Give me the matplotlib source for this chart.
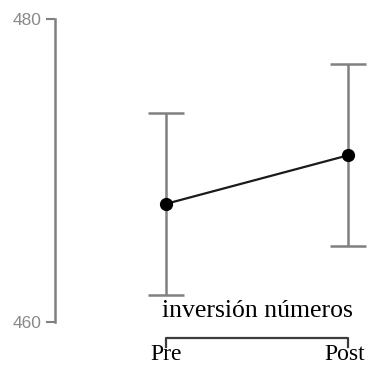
import matplotlib
matplotlib.use('Agg')
import matplotlib.pyplot as plt
from matplotlib.transforms import blended_transform_factory
from matplotlib.lines import Line2D

# Values
conditions = ['Pre', 'Post']
means = [467.8, 471.0]
errors = [6.0, 6.0]
y_ticks = [460, 480]
group_label = 'inversión números'

fig = plt.figure(figsize=(3.72, 3.68), dpi=100)
ax = fig.add_axes([55 / 372, 46 / 368, 317 / 372, 303 / 368])

x = list(range(len(conditions)))
ax.errorbar(x, means, yerr=errors, fmt='none', ecolor='#808080',
            elinewidth=1.8, capsize=13, capthick=1.8, zorder=1)
ax.plot(x, means, color='#1a1a1a', lw=1.6, marker='o', markersize=8.5,
        markerfacecolor='black', markeredgecolor='black', zorder=2)

ax.set_xlim(-0.61, 1.132)
ax.set_ylim(460, 480)
ax.set_yticks(y_ticks)
ax.set_xticks([])
for side in ['top', 'right', 'bottom']:
    ax.spines[side].set_visible(False)
ax.spines['left'].set_color('#808080')
ax.spines['left'].set_linewidth(1.8)
ax.tick_params(axis='y', direction='out', length=6.5, width=1.5,
               color='#808080', labelcolor='#8a8a8a', labelsize=12.5, pad=3)
for lab in ax.get_yticklabels():
    lab.set_fontfamily('Liberation Sans')

trans = blended_transform_factory(ax.transData, fig.transFigure)
serif = 'Liberation Serif'
ax.text(0.5, 1 - 311 / 368, group_label, transform=trans, ha='center',
        va='center', fontsize=18.5, family=serif, color='black')

# bracket joining the two conditions
bx = [x[0], x[0], x[1], x[1]]
by = [1 - 347 / 368, 1 - 338 / 368, 1 - 338 / 368, 1 - 347 / 368]
fig.add_artist(Line2D(bx, by, transform=trans, color='#3c3c3c', lw=1.6,
                      clip_on=False))

for xi, name, dx in zip(x, conditions, [0.0, -0.02]):
    ax.text(xi + dx, 1 - 355 / 368, name, transform=trans, ha='center',
            va='center', fontsize=17, family=serif, color='black')

fig.savefig('out.png', dpi=100)
